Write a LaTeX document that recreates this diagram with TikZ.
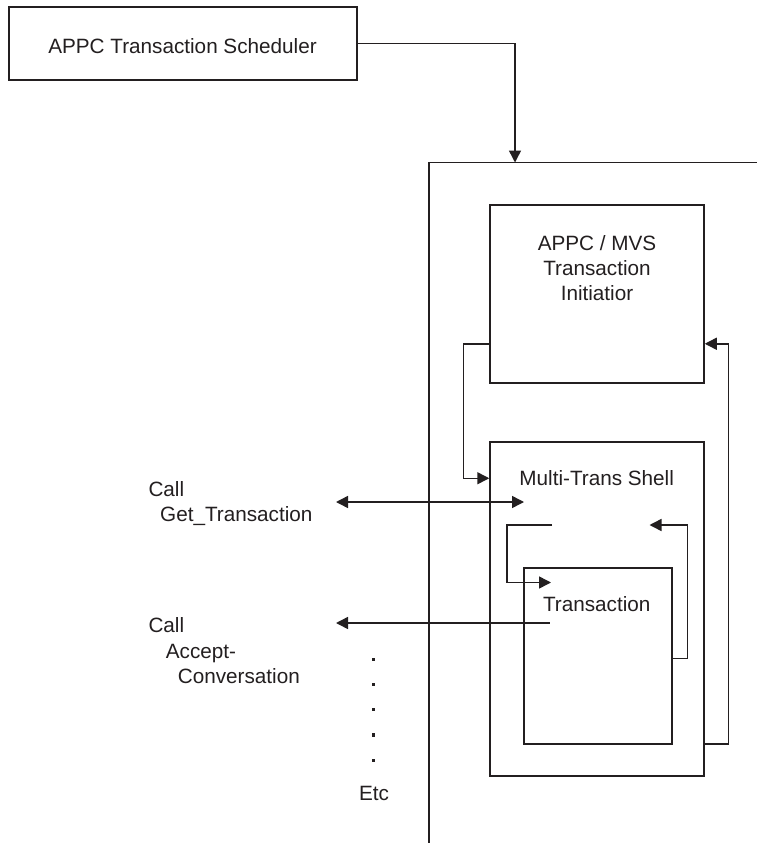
\documentclass[tikz,border=0pt]{standalone}
\usepackage{fontspec}
\setmainfont{Liberation Sans}
\usetikzlibrary{arrows.meta}
\definecolor{ink}{RGB}{35,31,32}
\begin{document}
\begin{tikzpicture}[x=1pt,y=-1pt,
  every node/.style={font=\fontsize{20.7}{25}\selectfont, text=ink},
  box/.style={draw=ink, line width=1.5pt, rectangle, inner sep=0pt},
  lbl/.style={inner sep=0pt},
  ln/.style={draw=ink, line width=1.5pt},
  arr/.style={ln, -{Triangle[length=12pt,width=12pt]}},
  dbl/.style={ln, {Triangle[length=12pt,width=12pt]}-{Triangle[length=12pt,width=12pt]}},
  dotsq/.style={fill=ink, inner sep=0pt, minimum size=3.5pt, rectangle}]
\useasboundingbox (0,0) rectangle (757,843);
\fill[white] (0,0) rectangle (757,843);

% boxes
\node[box, minimum width=348pt, minimum height=73pt] (sched) at (183,43.5) {};
\node[lbl, anchor=base] (schedt) at (182.5,54) {APPC Transaction Scheduler};

\node[box, minimum width=214pt, minimum height=178pt] (init) at (597,294) {};
\node[lbl, anchor=base] (initt1) at (597,250) {APPC / MVS};
\node[lbl, anchor=base] (initt2) at (597,275) {Transaction};
\node[lbl, anchor=base] (initt3) at (597,300.5) {Initiatior};

\node[box, minimum width=214pt, minimum height=334pt] (shell) at (597,609) {};
\node[lbl, anchor=base] (shellt) at (596.7,485.7) {Multi-Trans Shell};

\node[box, minimum width=148pt, minimum height=176pt] (trans) at (598,656) {};
\node[lbl, anchor=base] (transt) at (596.7,611.4) {Transaction};

% big open frame
\coordinate (bl) at (429,843);
\coordinate (tl) at (429,162.5);
\coordinate (tr) at (757,162.5);
\coordinate (tin) at (515,162.5);
\draw[ln] (bl) -- (tl) -- (tr);
\draw[arr] (sched.east) -| (tin);

% initiator <-> shell loop
\draw[arr] ([yshift=40pt]init.south west) -- ++(-26,0) |- ([yshift=-37pt]shell.north west);
\draw[arr] ([yshift=33pt]shell.south east) -- ++(23.5,0) |- ([yshift=40pt]init.south east);

% inner loop
\coordinate (lp1) at (552,525);
\coordinate (lp2) at (551,582.5);
\draw[arr] (lp1) -- ++(-45,0) |- (lp2);
\coordinate (rp1) at (649.5,525);
\draw[arr] ([yshift=-91pt]trans.north east) -- ++(14.7,0) |- (rp1);

% calls
\coordinate (getL) at (336,502);
\coordinate (getR) at (524,502);
\draw[dbl] (getL) -- (getR);
\coordinate (acS) at (549.5,623);
\coordinate (acE) at (336,623);
\draw[arr] (acS) -- (acE);

\node[lbl, anchor=base west] (c1) at (148.3,496) {Call};
\node[lbl, anchor=base west] (c1b) at (160,521.7) {Get\_Transaction};
\node[lbl, anchor=base west] (c2) at (148.3,632.5) {Call};
\node[lbl, anchor=base west] (c2b) at (165.7,658) {Accept-};
\node[lbl, anchor=base west] (c2c) at (177.7,683.6) {Conversation};

\foreach \yy [count=\i] in {659.3,684.3,709.7,735,760.7}
  \node[dotsq] (dot\i) at (373.3,\yy) {};
\node[lbl, anchor=base] (etc) at (374,800) {Etc};
\end{tikzpicture}
\end{document}
